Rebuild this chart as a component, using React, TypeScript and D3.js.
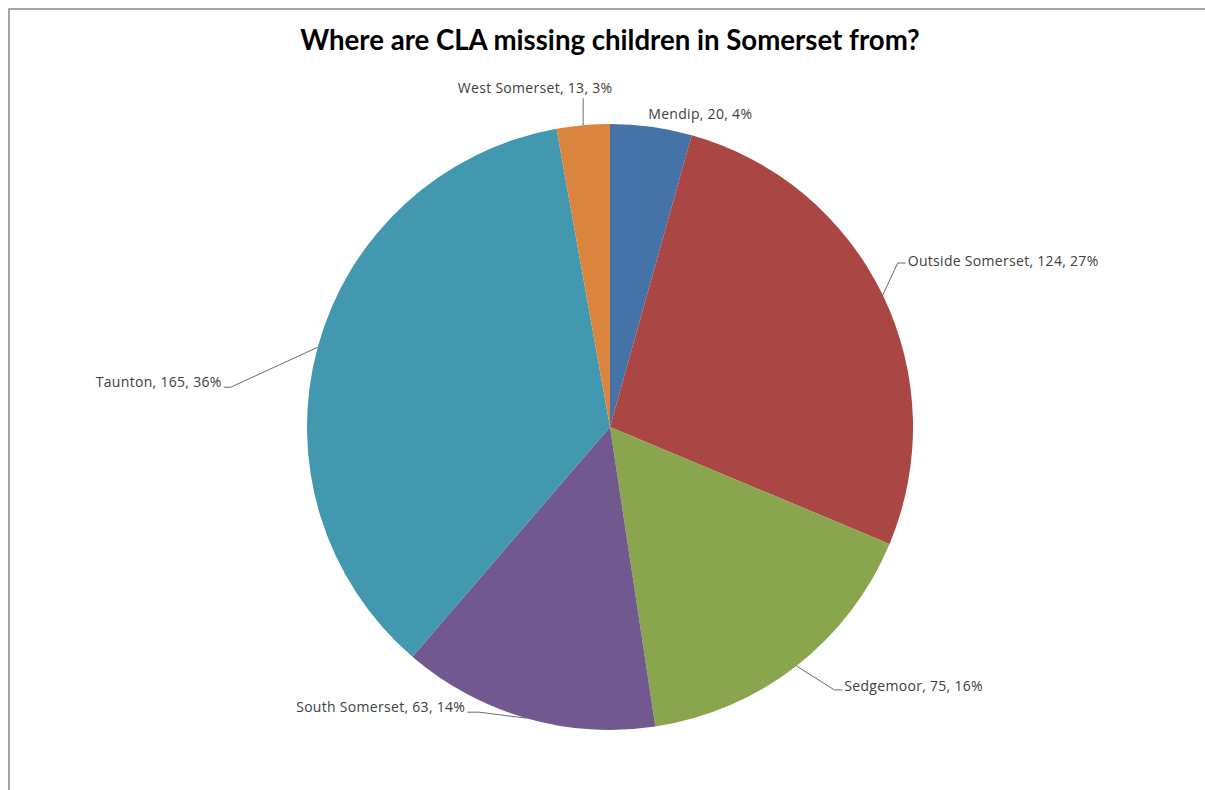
import React from "react";
import * as d3 from "d3";

const categories = ["Mendip", "Outside Somerset", "Sedgemoor", "South Somerset", "Taunton", "West Somerset"];
const values = [20, 124, 75, 63, 165, 13];
const colors = ["#4572A7", "#AA4643", "#89A54E", "#71588F", "#4198AF", "#DB843D"];
const title = "Where are CLA missing children in Somerset from?";

// label layout relative to the slice edge point: elbow offset, text anchor & offset
const labelLayout = [
  { elbow: null, end: null, tx: -3, ty: -8, anchor: "start" },
  { elbow: [15, -32], end: [23, -32], tx: 25, ty: -29, anchor: "start" },
  { elbow: [38, 24], end: [46, 24], tx: 48, ty: 25, anchor: "start" },
  { elbow: [-47, -6], end: [-59, -6], tx: -61, ty: -6, anchor: "end" },
  { elbow: [-87, 40], end: [-94, 40], tx: -96, ty: 40, anchor: "end" },
  { elbow: [0, -27], end: [0, -27], tx: -48, ty: -32, anchor: "middle" },
];

export default function App() {
  const W = 1205, H = 790;
  const cx = 610, cy = 427, r = 303;
  const total = d3.sum(values);
  const pie = d3.pie<number>().sort(null).startAngle(0).endAngle(2 * Math.PI);
  const arcs = pie(values);
  const arcGen = d3.arc<d3.PieArcDatum<number>>().innerRadius(0).outerRadius(r);
  const titleFont = "Lato, 'Open Sans', sans-serif";
  const labelFont = "'Open Sans', Lato, sans-serif";

  return (
    <div style={{ position: "fixed", left: 0, top: 0, width: W, height: H, overflow: "hidden", background: "#fff" }}>
      <svg width={W} height={H} style={{ display: "block" }}>
        <rect x={0} y={0} width={W} height={H} fill="#fff" />
        <text x={114} y={-4} fontFamily={titleFont} fontWeight="bold" fontSize={24} fill="#000">g</text>
        <rect x={9} y={9} width={W + 50} height={H + 50} fill="none" stroke="#878787" strokeWidth={1.5} />
        <text x={cx} y={50} textAnchor="middle" fontFamily={titleFont} fontWeight="bold" fontSize={27.6} fill="#000">{title}</text>
        <g transform={`translate(${cx},${cy})`}>
          {arcs.map((a, i) => (
            <path key={i} d={arcGen(a) || ""} fill={colors[i]} />
          ))}
        </g>
        {arcs.map((a, i) => {
          const mid = (a.startAngle + a.endAngle) / 2;
          const ex = cx + r * Math.sin(mid);
          const ey = cy - r * Math.cos(mid);
          const L = labelLayout[i];
          const pct = Math.round((values[i] / total) * 100);
          return (
            <g key={i}>
              {L.elbow && (
                <polyline
                  points={`${ex},${ey} ${ex + L.elbow[0]},${ey + L.elbow[1]} ${ex + L.end![0]},${ey + L.end![1]}`}
                  fill="none"
                  stroke="#6b6b6b"
                  strokeWidth={1}
                />
              )}
              <text
                x={ex + L.tx}
                y={ey + L.ty}
                textAnchor={L.anchor as any}
                fontFamily={labelFont}
                fontSize={14}
                letterSpacing={0.3}
                fill="#404040"
              >
                {`${categories[i]}, ${values[i]}, ${pct}%`}
              </text>
            </g>
          );
        })}
      </svg>
    </div>
  );
}
